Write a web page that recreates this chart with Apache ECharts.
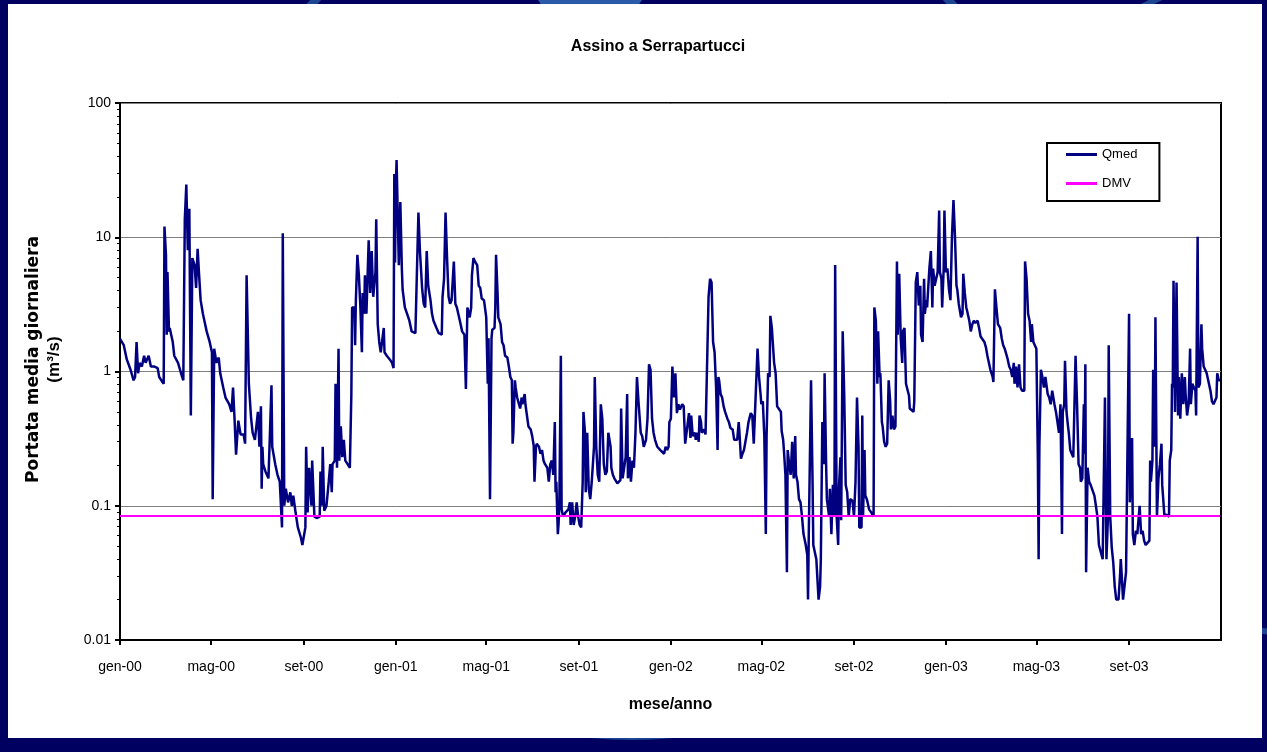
<!DOCTYPE html>
<html>
<head>
<meta charset="utf-8">
<title>Assino a Serrapartucci</title>
<script src="https://cdn.jsdelivr.net/npm/echarts@6/dist/echarts.min.js"></script>
<style>
  html, body { margin: 0; padding: 0; background: #000060; }
  #chart { width: 1267px; height: 752px; }
</style>
</head>
<body>
<div id="chart"></div>
<script>
// portata media giornaliera Qmed: [giorni dal 1 gen 2000, m3/s]
const qmed2000 = [[0,1.75],[5,1.57],[9,1.23],[14,1.03],[18,0.86],[20,0.91],[22,1.66],[24,0.97],[26,1.16],[29,1.09],[32,1.31],[34,1.16],[38,1.31],[41,1.09],[45,1.09],[50,1.06],[52,0.91],[56,0.84],[58,0.81],[59,12],[61,7.4],[62,1.88],[63,5.5],[65,1.99],[66,2.11],[70,1.66],[72,1.31],[77,1.16],[81,0.97],[84,0.86],[86,13.6],[88,24.7],[90,8],[92,16.3],[94,0.47],[96,7.0],[99,6.2],[101,4.2],[103,8.2],[105,5.2],[107,3.4],[110,2.69],[113,2.25],[115,1.99],[119,1.66],[122,1.39],[123,0.112],[125,1.48],[128,1.16],[131,1.27],[133,0.97],[137,0.76],[140,0.64],[145,0.57],[148,0.5],[150,0.76],[152,0.445],[154,0.24],[157,0.43],[160,0.34],[164,0.34],[166,0.29],[168,5.2],[171,0.81],[174,0.445],[176,0.35],[179,0.31],[183,0.5],[185,0.275],[187,0.55],[188,0.134],[189,0.275],[190,0.204],[193,0.18],[197,0.16],[199,0.35],[201,0.79],[202,0.275],[206,0.204],[209,0.17],[212,0.151],[215,0.069],[216,10.7],[218,0.1],[220,0.134],[223,0.106],[226,0.126],[228,0.1],[230,0.119],[233,0.089],[236,0.069],[240,0.058],[242,0.051],[244,0.051],[246,0.069],[247,0.275],[249,0.089],[251,0.192],[254,0.1],[255,0.217],[258,0.083],[261,0.081],[265,0.083],[266,0.18],[268,0.1],[269,0.275],[271,0.092],[274,0.1],[277,0.151],[279,0.204],[281,0.126],[282,0.204],[285,0.217],[286,0.81],[288,0.192],[290,1.48],[291,0.217],[293,0.39],[295,0.23],[297,0.31],[299,0.217],[302,0.204],[305,0.192],[307,0.68],[308,3.0],[311,3.0],[312,1.57],[313,3.4],[315,7.4],[317,5.2],[319,3.0],[321,1.39],[322,3.85],[324,2.69],[325,5.2],[327,2.69],[330,9.5],[332,3.85],[334,7.9],[336,3.6],[339,5.5],[340,13.6],[342,2.25],[344,1.66],[346,1.39],[350,2.11],[351,1.39],[354,1.31],[358,1.23],[361,1.16],[363,1.06],[364,29.6],[365,6.5]];
const qmed2001 = [[366,23.3],[367,37.6],[370,6.2],[372,18.3],[374,5.85],[375,4.1],[378,3.0],[381,2.69],[384,2.39],[387,1.99],[392,1.93],[394,5.5],[396,15.3],[398,7.9],[401,4.1],[403,3.2],[405,3.0],[407,7.9],[409,4.35],[412,3.4],[414,2.69],[416,2.39],[420,2.11],[423,1.93],[427,1.88],[428,3.6],[430,4.9],[432,15.3],[434,7.0],[436,3.6],[438,3.2],[440,3.4],[443,6.6],[445,3.2],[447,3.0],[451,2.39],[454,1.99],[457,1.88],[459,0.74],[461,3.0],[464,2.53],[466,3.0],[467,5.2],[469,7.0],[471,6.6],[474,6.2],[476,4.35],[478,4.2],[480,3.5],[483,3.4],[486,2.53],[488,0.81],[489,1.77],[491,0.112],[493,1.77],[494,2.05],[497,2.11],[498,3.0],[499,7.4],[501,3.85],[502,2.53],[505,2.25],[507,1.66],[509,1.57],[511,1.31],[514,1.27],[516,1.09],[518,0.91],[520,0.86],[521,0.29],[522,0.35],[524,0.86],[525,0.76],[527,0.64],[529,0.66],[531,0.53],[533,0.64],[534,0.57],[537,0.68],[538,0.57],[540,0.47],[542,0.39],[545,0.37],[547,0.33],[549,0.28],[550,0.151],[552,0.275],[553,0.29],[556,0.275],[558,0.244],[560,0.26],[562,0.217],[564,0.204],[567,0.192],[569,0.151],[571,0.204],[573,0.217],[575,0.17],[577,0.42],[578,0.126],[579,0.151],[581,0.0615],[582,0.074],[583,0.1],[585,1.31],[586,0.094],[588,0.083],[591,0.089],[593,0.089],[595,0.094],[597,0.106],[598,0.072],[600,0.106],[602,0.072],[604,0.083],[606,0.106],[608,0.083],[610,0.072],[612,0.069],[614,0.151],[615,0.5],[617,0.35],[618,0.126],[620,0.35],[622,0.134],[624,0.112],[626,0.151],[629,0.275],[630,0.91],[632,0.275],[634,0.17],[636,0.151],[638,0.57],[640,0.445],[642,0.204],[644,0.17],[646,0.18],[648,0.35],[651,0.275],[652,0.192],[654,0.17],[656,0.16],[660,0.147],[662,0.151],[664,0.155],[665,0.53],[667,0.16],[668,0.16],[671,0.23],[673,0.68],[674,0.16],[676,0.23],[678,0.151],[680,0.217],[682,0.192],[684,0.35],[686,0.91],[688,0.6],[691,0.35],[693,0.33],[695,0.275],[698,0.31],[700,0.445],[702,1.13],[704,1.03],[706,0.445],[708,0.35],[710,0.31],[713,0.275],[715,0.275],[717,0.26],[719,0.26],[722,0.244],[724,0.275],[726,0.26],[728,0.275],[729,0.42]];
const qmed2002 = [[731,0.445],[733,1.09],[735,0.64],[737,0.97],[739,0.49],[741,0.57],[743,0.52],[746,0.57],[748,0.55],[750,0.29],[752,0.29],[755,0.49],[757,0.32],[758,0.47],[760,0.33],[763,0.35],[764,0.31],[766,0.35],[768,0.3],[769,0.47],[771,0.42],[772,0.35],[775,0.37],[777,0.34],[779,0.33],[781,3.6],[783,4.9],[785,4.6],[787,1.66],[789,1.39],[791,0.76],[793,0.26],[794,0.91],[795,0.86],[797,0.68],[799,0.64],[801,0.55],[803,0.5],[806,0.445],[808,0.42],[810,0.38],[813,0.37],[815,0.31],[817,0.3],[819,0.31],[821,0.42],[822,0.35],[824,0.224],[826,0.244],[828,0.26],[830,0.26],[832,0.35],[834,0.42],[837,0.49],[839,0.47],[841,0.29],[843,0.29],[846,1.48],[848,0.91],[850,0.68],[851,0.57],[853,0.6],[855,0.33],[857,0.0615],[858,0.33],[860,0.97],[862,0.91],[863,2.6],[865,2.11],[868,1.16],[870,0.97],[872,0.55],[874,0.53],[877,0.5],[878,0.36],[880,0.31],[881,0.26],[883,0.17],[885,0.032],[886,0.26],[888,0.204],[890,0.17],[892,0.3],[894,0.16],[896,0.33],[897,0.17],[899,0.151],[901,0.112],[903,0.106],[905,0.083],[907,0.0615],[910,0.051],[912,0.043],[913,0.02],[914,0.0615],[916,0.063],[917,0.86],[919,0.151],[920,0.051],[922,0.05],[924,0.04],[926,0.039],[927,0.02],[929,0.025],[930,0.04],[932,0.42],[934,0.204],[935,0.97],[937,0.204],[938,0.112],[941,0.083],[942,0.134],[944,0.0615],[946,0.143],[948,0.083],[949,6.2],[951,0.083],[953,0.051],[954,0.134],[956,0.23],[957,0.078],[959,1.99],[961,0.68],[963,0.143],[965,0.126],[967,0.083],[969,0.112],[972,0.109],[974,0.083],[976,0.151],[978,0.64],[980,0.275],[981,0.069],[984,0.069],[985,0.47],[986,0.083],[988,0.26],[989,0.119],[991,0.112],[992,0.106],[994,0.094],[997,0.089],[1000,0.083],[1001,3.0],[1003,2.39],[1005,0.81],[1006,1.99],[1008,0.91],[1009,0.97],[1011,0.42],[1012,0.39],[1014,0.3],[1016,0.275],[1018,0.29],[1020,0.86],[1022,0.6],[1023,0.37],[1025,0.47],[1027,0.37],[1029,0.39],[1031,6.6],[1032,1.88],[1034,5.35],[1036,1.77],[1038,1.16],[1039,1.99],[1041,2.11],[1043,0.81],[1045,0.81],[1047,0.66],[1048,0.53],[1050,0.52],[1053,0.5],[1054,0.6],[1056,4.6],[1058,5.5],[1060,3.1],[1062,4.35],[1063,1.88],[1065,1.66],[1067,4.9],[1068,2.69],[1070,3.4],[1071,3.0],[1074,5.85],[1076,7.9],[1078,3.0],[1079,5.85],[1081,4.35],[1083,4.35],[1085,5.5],[1087,15.8],[1088,5.5],[1090,4.9],[1091,3.0],[1093,5.85],[1094,15.8]];
const qmed2003 = [[1096,5.5],[1098,5.85],[1100,4.1],[1102,3.4],[1104,10.1],[1106,18.9],[1108,10.1],[1110,4.35],[1111,4.1],[1113,3.2],[1116,2.53],[1118,2.69],[1119,5.35],[1121,3.85],[1123,3.0],[1124,2.85],[1127,2.39],[1129,1.99],[1131,2.25],[1133,2.39],[1135,2.3],[1138,2.39],[1140,2.11],[1142,1.82],[1144,1.77],[1147,1.66],[1149,1.52],[1151,1.31],[1153,1.16],[1155,1.03],[1158,0.91],[1159,0.835],[1161,4.1],[1163,3.0],[1165,2.25],[1168,2.11],[1170,1.77],[1172,1.57],[1174,1.48],[1176,1.48],[1178,1.23],[1180,1.09],[1182,1.03],[1184,0.91],[1186,1.16],[1187,0.81],[1189,1.09],[1191,0.76],[1193,1.13],[1195,0.76],[1197,0.72],[1200,0.72],[1201,6.6],[1203,4.9],[1205,2.69],[1207,2.39],[1209,1.66],[1210,2.25],[1212,1.66],[1214,1.66],[1216,1.48],[1218,0.217],[1219,0.04],[1220,0.275],[1222,1.03],[1224,0.91],[1226,0.76],[1228,0.91],[1231,0.68],[1233,0.64],[1235,0.57],[1237,0.72],[1240,0.57],[1242,0.5],[1244,0.42],[1246,0.35],[1248,0.57],[1250,0.0615],[1251,0.5],[1253,0.57],[1254,1.2],[1256,0.5],[1258,0.39],[1259,0.35],[1261,0.26],[1263,0.244],[1265,0.23],[1267,0.23],[1268,1.31],[1270,0.57],[1272,0.204],[1274,0.192],[1275,0.151],[1277,0.16],[1279,0.57],[1280,0.244],[1281,1.13],[1282,0.032],[1284,0.192],[1286,0.151],[1288,0.143],[1290,0.143],[1293,0.119],[1295,0.1],[1297,0.083],[1299,0.051],[1301,0.051],[1304,0.04],[1306,0.04],[1307,0.64],[1309,0.04],[1311,0.083],[1312,1.57],[1314,0.083],[1316,0.049],[1318,0.038],[1320,0.025],[1322,0.02],[1325,0.02],[1327,0.03],[1328,0.04],[1329,0.032],[1331,0.02],[1333,0.02],[1335,0.032],[1337,0.032],[1339,2.69],[1340,0.106],[1343,0.32],[1344,0.0615],[1346,0.051],[1348,0.065],[1350,0.0615],[1351,0.0615],[1353,0.1],[1355,0.0615],[1357,0.065],[1359,0.055],[1361,0.051],[1363,0.051],[1366,0.055],[1367,0.217],[1368,0.151],[1370,0.217],[1371,1.03],[1373,0.275],[1374,2.53],[1376,0.083],[1378,0.16],[1380,0.204],[1382,0.29],[1383,0.143],[1386,0.083],[1388,0.086],[1390,0.089],[1392,0.083],[1393,0.217],[1395,0.26],[1396,0.81],[1397,0.76],[1398,4.75],[1400,0.5],[1402,4.6],[1404,0.47],[1405,0.91],[1407,0.445],[1409,0.97],[1411,0.57],[1413,0.91],[1414,0.68],[1416,0.47],[1418,0.57],[1420,1.48],[1421,0.57],[1423,0.81],[1425,0.76],[1427,0.72],[1428,0.47],[1430,10.1],[1431,0.76],[1433,0.81],[1435,2.25],[1436,1.48],[1438,1.09],[1440,1.03],[1442,0.97],[1444,0.86],[1445,0.86],[1447,0.72],[1449,0.6],[1451,0.57],[1453,0.57],[1455,0.64],[1456,0.97],[1458,0.86],[1460,0.86]];

// deflusso minimo vitale (costante)
const dmvDays = [0, 1460];
const dmvValues = [0.084, 0.084];

const xTickDates = ['2000-01-01', '2000-05-01', '2000-09-01', '2001-01-01', '2001-05-01', '2001-09-01',
  '2002-01-01', '2002-05-01', '2002-09-01', '2003-01-01', '2003-05-01', '2003-09-01'];
const xTickLabels = ['gen-00', 'mag-00', 'set-00', 'gen-01', 'mag-01', 'set-01',
  'gen-02', 'mag-02', 'set-02', 'gen-03', 'mag-03', 'set-03'];
const yMinorTicks = [0.02, 0.03, 0.04, 0.05, 0.06, 0.07, 0.08, 0.09,
  0.2, 0.3, 0.4, 0.5, 0.6, 0.7, 0.8, 0.9,
  2, 3, 4, 5, 6, 7, 8, 9,
  20, 30, 40, 50, 60, 70, 80, 90];

// asse x in giorni dal 1 gen 2000
const DAY = 86400000;
const t0 = Date.parse('2000-01-01');
const toDay = s => Math.round((Date.parse(s) - t0) / DAY);
const tickDays = xTickDates.map(toDay);
const xEnd = toDay('2004-01-01');

const qmedData = [].concat(qmed2000, qmed2001, qmed2002, qmed2003);
const dmvData = dmvDays.map((d, i) => [d, dmvValues[i]]);

const font = 'Liberation Sans, Arial, sans-serif';
const black = { color: '#000', width: 2 };

const chart = echarts.init(document.getElementById('chart'));
chart.setOption({
  animation: false,
  backgroundColor: '#000060',
  graphic: [
    { type: 'circle', z: -10, shape: { cx: 632, cy: 300, r: 436 }, style: { fill: 'none', stroke: '#1d4592', lineWidth: 8 } },
    { type: 'circle', z: -10, shape: { cx: 590, cy: -30, r: 60 }, style: { fill: '#2a5aa8' } },
    { type: 'circle', z: -10, shape: { cx: 1300, cy: 300, r: 333 }, style: { fill: 'none', stroke: '#1d4592', lineWidth: 6 } },
    { type: 'rect', z: -9, shape: { x: 8, y: 4, width: 1254, height: 734 }, style: { fill: '#fff' } }
  ],
  title: {
    text: 'Assino a Serrapartucci',
    left: 653,
    top: 34,
    textAlign: 'center',
    textStyle: { fontFamily: font, fontSize: 16, fontWeight: 'bold', color: '#000' }
  },
  legend: {
    orient: 'vertical',
    left: 1047,
    top: 143,
    data: ['Qmed', 'DMV'],
    selectedMode: false,
    backgroundColor: '#fff',
    borderColor: '#000',
    borderWidth: 2,
    padding: [5, 22, 11, 19],
    itemGap: 16,
    itemWidth: 31,
    itemHeight: 3,
    icon: 'rect',
    textStyle: { fontFamily: font, fontSize: 13, color: '#000' }
  },
  grid: {
    left: 120,
    top: 103,
    right: 46,
    bottom: 112,
    show: true,
    backgroundColor: '#fff',
    borderColor: '#000',
    borderWidth: 2
  },
  xAxis: {
    type: 'value',
    min: 0,
    max: xEnd,
    name: 'mese/anno',
    nameLocation: 'middle',
    nameGap: 57,
    nameTextStyle: { fontFamily: font, fontSize: 16, fontWeight: 'bold', color: '#000' },
    axisLine: { lineStyle: black },
    axisTick: { customValues: tickDays, length: 5, lineStyle: black },
    axisLabel: {
      customValues: tickDays,
      formatter: v => xTickLabels[tickDays.indexOf(v)] || '',
      margin: 20,
      fontFamily: font,
      fontSize: 14,
      color: '#000'
    },
    splitLine: { show: false }
  },
  yAxis: [
    {
      type: 'log',
      logBase: 10,
      min: 0.01,
      max: 100,
      name: '{a|Portata media giornaliera}\n{b|(m³/s)}',
      nameLocation: 'middle',
      nameGap: 56,
      nameTextStyle: {
        color: '#000',
        padding: [0, 0, 0, 24],
        rich: {
          a: { fontFamily: 'DejaVu Sans, sans-serif', fontSize: 17, fontWeight: 'bold', color: '#000', lineHeight: 20 },
          b: { fontFamily: font, fontSize: 17, fontWeight: 'bold', color: '#000', lineHeight: 20 }
        }
      },
      axisLine: { show: true, lineStyle: black },
      axisTick: { show: true, length: 5, lineStyle: black },
      axisLabel: { fontFamily: font, fontSize: 14, color: '#000', margin: 9 },
      splitLine: { show: true, lineStyle: { color: '#808080', width: 1 } }
    },
    {
      type: 'log',
      logBase: 10,
      min: 0.01,
      max: 100,
      position: 'left',
      axisLine: { show: false },
      axisLabel: { show: false },
      splitLine: { show: false },
      axisTick: { show: true, customValues: yMinorTicks, length: 3, lineStyle: { color: '#000', width: 1 } }
    }
  ],
  series: [
    {
      name: 'Qmed',
      type: 'line',
      data: qmedData,
      symbol: 'none',
      color: '#000080',
      lineStyle: { color: '#000080', width: 2.5 }
    },
    {
      name: 'DMV',
      type: 'line',
      data: dmvData,
      symbol: 'none',
      color: '#ff00ff',
      lineStyle: { color: '#ff00ff', width: 2 }
    }
  ]
});
</script>
</body>
</html>
